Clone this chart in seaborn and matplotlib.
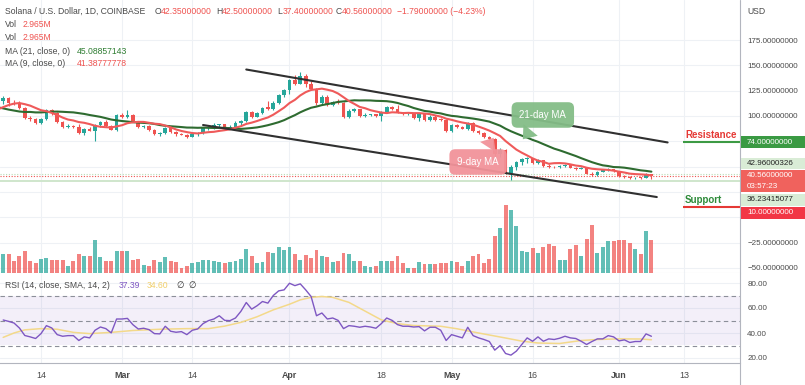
import numpy as np
import pandas as pd
import matplotlib
matplotlib.use("Agg")
import matplotlib.pyplot as plt
import matplotlib.dates as mdates
from matplotlib.patches import Rectangle
from matplotlib.lines import Line2D
import seaborn as sns

W, H = 805, 385

# daily candles, Feb 7 - Jun 7 2022
dates = pd.date_range("2022-02-07", periods=121, freq="D")
opens = [115, 118, 113, 112, 108, 98, 97, 93.5, 97, 106,
         103, 94, 89.5, 90.5, 89.5, 83, 87, 85.5, 91, 94.5,
         90, 86.5, 101, 99.5, 101, 95, 89.5, 90.5, 86.5, 82,
         83, 88, 84, 82, 81.5, 79.5, 82, 83, 88, 88.5,
         91, 92, 88.5, 89.5, 93.5, 95, 103.5, 99.5, 103, 108.5,
         107, 113, 120.5, 125.5, 135.5, 132, 139, 132, 127, 112.5,
         119, 111, 114, 113, 99.5, 105, 106.5, 100, 101, 101.5,
         100, 104, 108.5, 106.5, 103, 101.5, 102, 98.5, 101.5, 96,
         99.5, 96.5, 96, 85, 91, 89, 87.5, 93, 85, 83,
         79.5, 77, 62, 66.5, 44, 49.5, 55, 57.5, 58.5, 54,
         56.5, 51, 49.5, 49.3, 50.5, 52, 49, 48, 48.5, 43,
         41.5, 45, 46.5, 47.5, 45.3, 40.5, 40, 38.5, 39, 38.8,
         42.35]
highs = [119.5, 119, 116, 115, 109, 100, 98, 98, 107, 107,
         104, 95, 92, 91.5, 92.5, 88, 89, 92, 95.5, 96,
         91.5, 102, 103, 106, 102, 95.5, 91.5, 91, 87.5, 84.5,
         89, 88.5, 85, 83, 82, 83, 84, 89, 89.5, 93,
         92.5, 92.5, 91, 95, 96, 104.5, 105, 104, 108.5, 114.5,
         114.5, 122, 127, 136.5, 140, 143.5, 141, 135, 128, 120.5,
         121, 115, 116.5, 114, 106.5, 108, 107, 102.5, 102, 102,
         105, 109.5, 110, 111, 104, 103, 102.5, 102.5, 103, 100.5,
         101, 98, 97, 92, 92.5, 90.5, 94, 94, 86, 84,
         80.5, 78, 68, 67.5, 52, 56, 59, 60, 59, 57.5,
         57, 52.5, 51, 51.5, 53, 53, 50, 49.5, 49, 44.5,
         45.5, 47.5, 48.8, 48, 46, 41.5, 40.5, 39.5, 39.8, 43.5,
         42.5]
lows = [112, 110, 111, 107, 97, 95, 92.5, 92, 96, 101,
        93, 88.5, 88, 88, 82, 81, 85, 75, 89, 89,
        86, 85, 98.5, 98, 94, 88.5, 88, 85.5, 81, 80.5,
        82.5, 83, 80.5, 81, 78.5, 79, 80, 82, 86.5, 87,
        89.5, 88, 87.5, 89, 91, 94, 98.5, 99, 102, 106,
        105.5, 112, 119, 122, 131, 131.5, 129, 126, 111, 111.5,
        110, 110, 112, 98.5, 98.5, 103.5, 99, 99.5, 100, 99.5,
        95.5, 103, 105.5, 102.5, 100.5, 100.5, 97.5, 95.5, 95, 95.5,
        95.5, 95, 84, 84, 88, 87, 86.5, 84, 82, 78.5,
        76, 61, 60, 43, 36.5, 47, 52, 54, 52.5, 53,
        50, 48.5, 48.5, 49, 50, 48.5, 47, 47.5, 42.5, 40.5,
        41, 44.5, 45.5, 44.5, 39.5, 39, 38, 38, 38.3, 38.5,
        37.4]
closes = [118, 113, 112, 108, 98, 97, 93.5, 97, 106, 103,
          94, 89.5, 90.5, 89.5, 83, 87, 85.5, 91, 94.5, 90,
          86.5, 101, 99.5, 101, 95, 89.5, 90.5, 86.5, 82, 83,
          88, 84, 82, 81.5, 79.5, 82, 83, 88, 88.5, 91,
          92, 88.5, 89.5, 93.5, 95, 103.5, 99.5, 103, 107.5, 107,
          113, 120.5, 125.5, 135.5, 132, 139, 132, 127, 112.5, 119,
          111, 114, 113, 99.5, 105, 106.5, 100, 101, 101.5, 100,
          104, 108.5, 106.5, 103, 101.5, 102, 98.5, 101.5, 96, 99.5,
          96.5, 96, 85, 91, 89, 87.5, 93, 85, 83, 79.5,
          77, 62, 66.5, 44, 49.5, 55, 57.5, 58.5, 54, 56.5,
          51, 49.5, 49.3, 50.5, 52, 49, 48, 48.5, 43, 41.5,
          45, 46.5, 47.5, 45.3, 40.5, 40, 38.5, 39, 38.8, 42.35,
          40.56]
# closes Jan 17 - Feb 6, only used to warm up the moving averages
pre_closes = [140, 138, 132, 128, 108, 96, 103, 97, 99, 95, 92, 94, 97,
              95, 99, 103, 108, 110, 114, 117, 115]
volume_m = [1.69, 1.69, 1.10, 1.49, 1.99, 1.04, 0.89, 1.25, 1.31, 1.16,
            1.16, 1.16, 0.65, 1.10, 1.69, 1.49, 1.49, 2.94, 1.45, 1.04,
            1.10, 1.99, 1.93, 1.93, 1.18, 1.25, 0.71, 0.65, 1.18, 1.01,
            1.40, 1.10, 0.95, 0.42, 0.65, 0.86, 0.95, 1.18, 1.18, 1.10,
            0.95, 0.86, 0.95, 1.04, 1.25, 2.14, 1.54, 0.86, 0.95, 1.84,
            1.78, 2.29, 2.07, 2.29, 1.69, 1.18, 1.60, 1.31, 2.07, 1.54,
            1.40, 0.95, 1.10, 1.78, 1.69, 1.10, 1.04, 0.60, 0.51, 0.60,
            1.10, 1.04, 1.04, 1.49, 0.89, 0.45, 0.45, 0.95, 0.80, 0.80,
            0.80, 0.89, 0.89, 1.04, 0.95, 0.65, 1.04, 1.54, 1.69, 0.86,
            1.25, 3.32, 4.01, 6.08, 5.64, 4.19, 1.96, 1.87, 2.23, 1.78,
            2.32, 2.58, 2.38, 1.13, 1.13, 2.11, 2.52, 1.54, 3.03, 4.27,
            1.78, 2.32, 2.82, 2.82, 2.91, 2.91, 2.67, 2.14, 1.72, 3.71,
            2.965]
rsi = [50.4, 49.3, 48, 44, 38, 36.9, 35.6, 39.5, 45.9, 44,
       38.7, 37.4, 37.9, 37.9, 34, 36.9, 36.1, 42.2, 44.8, 43.5,
       40.1, 51.2, 51.2, 51.7, 46.7, 43.2, 43.8, 42.7, 39.5, 39.3,
       45.4, 41.4, 40.6, 41.1, 38.7, 42.2, 43.2, 47.5, 49.9, 51.2,
       53.8, 50.1, 49.9, 52, 57.3, 64.4, 59.1, 61.8, 65.2, 63.9,
       70, 73.7, 74.5, 79.8, 77.9, 79.3, 74.5, 69.2, 53.8, 56,
       51.2, 52, 50.1, 43.5, 45.9, 45.4, 44.6, 45.4, 44.8, 43.8,
       47.5, 52, 50.1, 46.7, 45.4, 45.4, 44.8, 45.1, 41.7, 44.6,
       44.6, 42.2, 34, 38.7, 37.4, 36.1, 44.6, 37.9, 36.1, 34.8,
       33.2, 26.3, 30, 23.6, 22.3, 25.5, 30.8, 36.1, 33.4, 36.9,
       33.4, 35.3, 34.8, 35.8, 37.4, 36.1, 35.6, 33.4, 30.8, 33.2,
       35.3, 35.3, 37.9, 36.9, 33.7, 34.5, 32.4, 33.2, 33.2, 39.3,
       37.39]
# SMA(14) of RSI (day offset from Feb 7)
rsi_ma_day = [0, 2, 4, 7, 10, 13, 16, 20, 24, 29, 34, 38, 41, 44, 47, 50, 53, 55, 57,
              59, 61, 64, 67, 70, 73, 76, 81, 84, 88, 93, 96, 99, 103, 107, 110, 114, 118, 120]
rsi_ma = [36.5, 40, 42.5, 43.5, 43, 40.5, 39.5, 40.5, 42, 43, 43.5, 43.5, 45.5, 48.5, 53, 58.5, 63, 66.5, 68.5,
          69.2, 68.5, 64.5, 57.5, 50.5, 47.5, 46, 45.4, 43.4, 40, 36, 33.5, 32, 31.6, 34, 34.8, 35.3, 35.2, 34.6]

tick_dates = ["2022-02-14", "2022-03-01", "2022-03-14", "2022-04-01", "2022-04-18",
              "2022-05-01", "2022-05-16", "2022-06-01", "2022-06-13"]
tick_labels = ["14", "Mar", "14", "Apr", "18", "May", "16", "Jun", "13"]
price_ticks = [175, 150, 125, 100, 75, 50, 25, 0, -25, -50]
hidden_price_labels = [75, 50, 25, 0]   # covered by the price tags
rsi_ticks = [20, 40, 60, 80]

# drawn channel and levels
channel_upper = [("2022-03-24", 145.9), ("2022-06-10", 73.9)]
channel_lower = [("2022-03-16", 91.1), ("2022-06-08", 20.0)]
resistance, support = 74.0, 10.0
last_close, level_hi, level_lo = 40.56, 42.96000326, 36.23415077

TEAL, RED = "#26a69a", "#ef5350"
GRID = "#eef1f5"
TXT = "#4a4a4a"

sns.set_theme(style="white")
plt.rcParams['font.family'] = ['Liberation Sans', 'DejaVu Sans']


def fx(px):
    return px / W


def fy(py):
    return 1 - py / H


fig = plt.figure(figsize=(W / 100, H / 100), dpi=100)
fig.patch.set_facecolor("white")
ax = fig.add_axes([0, fy(273), fx(740), 273 / H])
axr = fig.add_axes([0, fy(363), fx(740), 90 / H], sharex=ax)

x = mdates.date2num(dates)
x0 = x[0]
o, hi, lo, c = map(np.array, (opens, highs, lows, closes))
col = np.where(c >= o, TEAL, RED)

# candles
ax.vlines(x, lo, hi, colors=col, lw=0.8, zorder=4)
ax.bar(x, np.maximum(np.abs(c - o), 0.6), bottom=np.minimum(o, c), width=0.68,
       color=col, zorder=5, linewidth=0)

# moving averages
full = pd.Series(pre_closes + closes, dtype=float)
ma_x = np.r_[x0 - 1, x]
ma9 = full.rolling(9).mean().iloc[len(pre_closes) - 1:].values
ma21 = full.rolling(21).mean().iloc[len(pre_closes) - 1:].values
sns.lineplot(x=ma_x, y=ma21, ax=ax, color="#2e6b30", lw=1.5, zorder=6)
sns.lineplot(x=ma_x, y=ma9, ax=ax, color="#ef5a5a", lw=1.5, zorder=6)

# channel
for pts in (channel_upper, channel_lower):
    xs = mdates.date2num(pd.to_datetime([p[0] for p in pts]))
    ax.plot(xs, [p[1] for p in pts], color="#303030", lw=1.5, zorder=7)

# price lines
ax.axhline(level_hi, color="#b9dcb5", lw=0.8, ls=(0, (1, 1.5)), zorder=3)
ax.axhline(last_close, color=RED, lw=0.8, ls=(0, (1, 1.5)), zorder=3)
ax.axhline(level_lo, color="#cfe6cc", lw=1.4, zorder=3)

lvl_x0 = mdates.date2num(pd.Timestamp("2022-06-13")) - 0.1
ax.hlines(resistance, lvl_x0, x0 + 137, color="#3c9a44", lw=1.5, zorder=7)
ax.hlines(support, lvl_x0, x0 + 137, color="#e53935", lw=1.5, zorder=7)
ax.text(lvl_x0 + 0.3, resistance + 2.3, "Resistance", color="#e53935", fontsize=7.0,
        fontweight="bold", va="bottom", ha="left")
ax.text(lvl_x0 + 0.3, support + 2.3, "Support", color="#2e8b3a", fontsize=7.0,
        fontweight="bold", va="bottom", ha="left")

# callouts
ax.annotate("21-day MA", xy=(x0 + 96.2, 77.0), xytext=(x0 + 99.9, 101),
            fontsize=7.0, color="white", ha="center", va="center", zorder=9,
            bbox=dict(boxstyle="round,pad=0.8,rounding_size=0.6", fc="#84bd87", ec="none", alpha=0.95),
            arrowprops=dict(arrowstyle="wedge,tail_width=1.9,shrink_factor=0.5", fc="#84bd87",
                            ec="none", alpha=0.95, shrinkB=0))
ax.annotate("9-day MA", xy=(x0 + 90.8, 78.5), xytext=(x0 + 87.9, 54.6),
            fontsize=7.0, color="white", ha="center", va="center", zorder=9,
            bbox=dict(boxstyle="round,pad=0.8,rounding_size=0.6", fc="#f2939a", ec="none", alpha=0.95),
            arrowprops=dict(arrowstyle="wedge,tail_width=1.9,shrink_factor=0.5", fc="#f2939a",
                            ec="none", alpha=0.95, shrinkB=0))

# volume on its own scale at the foot of the price pane
axv = ax.twinx()
axv.bar(x, volume_m, width=0.72, color=col, alpha=0.72, linewidth=0)
axv.set_ylim(0, 273 / 11.23)
axv.axis("off")

# price axis
ax.set_ylim(100 - 157 / 1.013, 100 + 116 / 1.013)
ax.set_xlim(x0 - 0.59, x0 + 136.4)
ax.set_yticks(price_ticks)
ax.set_yticklabels(["" if v in hidden_price_labels else f"{v:.8f}".replace("-", "\u2212")
                    for v in price_ticks])
ax.yaxis.tick_right()
ax.tick_params(axis="y", length=0, pad=5.2, labelsize=5.8, labelcolor=TXT)
ax.tick_params(axis="x", length=0, labelbottom=False)
ax.grid(True, color=GRID, lw=0.8)
for s in ("top", "left", "right"):
    ax.spines[s].set_visible(False)
ax.spines["bottom"].set_color("#e0e3eb")
ax.spines["bottom"].set_linewidth(0.8)

# RSI pane
axr.fill_between([x0 - 2, x0 + 140], 30, 70, color="#7e57c2", alpha=0.09, lw=0)
for lvl in (70, 50, 30):
    axr.axhline(lvl, color="#8c8f99", lw=0.8, ls=(0, (4, 3)))
sns.lineplot(x=x0 + np.array(rsi_ma_day), y=rsi_ma, ax=axr, color="#f3d98a", lw=1.1)
sns.lineplot(x=x, y=rsi, ax=axr, color="#7e57c2", lw=1.0)
axr.set_ylim(16, 88)
axr.set_yticks(rsi_ticks)
axr.set_yticklabels([f"{v:.2f}" for v in rsi_ticks])
axr.yaxis.tick_right()
axr.tick_params(axis="y", length=0, pad=5.2, labelsize=5.8, labelcolor=TXT)
axr.set_xticks(mdates.date2num(pd.to_datetime(tick_dates)))
axr.set_xticklabels(tick_labels)
axr.tick_params(axis="x", length=0, pad=6, labelsize=6.4, labelcolor=TXT)
for lab in axr.get_xticklabels():
    if lab.get_text().isalpha():
        lab.set_fontweight("bold")
axr.grid(True, color=GRID, lw=0.8)
for s in ("top", "left", "right"):
    axr.spines[s].set_visible(False)
axr.spines["bottom"].set_color("#b2b5be")
axr.spines["bottom"].set_linewidth(0.8)
axr.set_xlabel("")

# right scale divider
fig.add_artist(Line2D([fx(740), fx(740)], [0, 1], color="#b2b5be", lw=0.8))

# price tags on the right scale
boxes = [
    (136, 148, "#3a9a43", ["74.00000000"], "white"),
    (158, 169, "#d9ecd6", ["42.96000326"], "#222222"),
    (170, 192, "#f0625d", ["40.56000000", "03:57:23"], "white"),
    (194, 206, "#d9ecd6", ["36.23415077"], "#222222"),
    (207, 219, "#f23645", ["10.00000000"], "white"),
]
for top, bot, fc, lines, tc in boxes:
    fig.add_artist(Rectangle((fx(741), fy(bot)), fx(805) - fx(741), (bot - top) / H,
                             transform=fig.transFigure, fc=fc, ec="none", zorder=5))
    step = (bot - top) / len(lines)
    for i, t in enumerate(lines):
        fig.text(fx(747), fy(top + step * (i + 0.5)), t, color=tc, fontsize=5.8,
                 va="center", ha="left", zorder=6)

fig.text(fx(747), fy(11.5), "USD", color=TXT, fontsize=6.2, va="center")

# legend lines
hdr = 6.2
fig.text(fx(5), fy(11.5), "Solana / U.S. Dollar, 1D, COINBASE", color=TXT, fontsize=hdr, va="center")
for lx, letter, val in ((155, "O", "42.35000000"), (216, "H", "42.50000000"),
                        (277, "L", "37.40000000"), (336, "C", "40.56000000")):
    fig.text(fx(lx), fy(11.5), letter, color=TXT, fontsize=hdr, va="center")
    fig.text(fx(lx + 5.5), fy(11.5), val, color=RED, fontsize=hdr, va="center")
fig.text(fx(397), fy(11.5), "\u22121.79000000 (\u22124.23%)", color=RED, fontsize=hdr, va="center")
for ly in (24.5, 37.5):
    fig.text(fx(5), fy(ly), "Vol", color=TXT, fontsize=hdr, va="center")
    fig.text(fx(23), fy(ly), "2.965M", color=RED, fontsize=hdr, va="center")
fig.text(fx(5), fy(51), "MA (21, close, 0)", color=TXT, fontsize=hdr, va="center")
fig.text(fx(77), fy(51), "45.08857143", color="#2e7d32", fontsize=hdr, va="center")
fig.text(fx(5), fy(63.5), "MA (9, close, 0)", color=TXT, fontsize=hdr, va="center")
fig.text(fx(77), fy(63.5), "41.38777778", color=RED, fontsize=hdr, va="center")

fig.text(fx(5), fy(285), "RSI (14, close, SMA, 14, 2)", color=TXT, fontsize=hdr, va="center")
fig.text(fx(119), fy(285), "37.39", color="#7e57c2", fontsize=hdr, va="center")
fig.text(fx(147), fy(285), "34.60", color="#f1cf6a", fontsize=hdr, va="center")
fig.text(fx(176), fy(285), "\u2205", color="#333333", fontsize=hdr, va="center")
fig.text(fx(188), fy(285), "\u2205", color="#333333", fontsize=hdr, va="center")

fig.savefig("out.png", dpi=100, facecolor="white")
